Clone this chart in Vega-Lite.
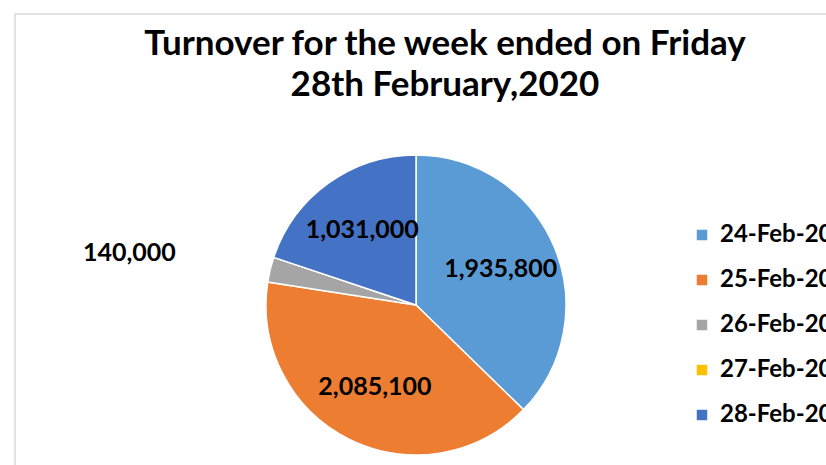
{
  "$schema": "https://vega.github.io/schema/vega-lite/v6.json",
  "autosize": {"type": "none"},
  "width": 850,
  "height": 582,
  "padding": {"left": 15, "top": 14, "right": 0, "bottom": 0},
  "background": "white",
  "view": {"stroke": "#d9d9d9", "strokeWidth": 1.5},
  "title": {
    "text": ["Turnover for the week ended on Friday", "28th February,2020"],
    "font": "Lato",
    "fontSize": 35,
    "fontWeight": "bold",
    "color": "black",
    "anchor": "middle",
    "baseline": "top",
    "lineHeight": 41,
    "offset": 0,
    "dx": 5,
    "dy": 89
  },
  "data": {
    "values": [
      {"day": "24-Feb-20", "value": 1935800},
      {"day": "25-Feb-20", "value": 2085100},
      {"day": "26-Feb-20", "value": 140000},
      {"day": "27-Feb-20", "value": 0},
      {"day": "28-Feb-20", "value": 1031000}
    ]
  },
  "encoding": {
    "theta": {"field": "value", "type": "quantitative", "stack": true},
    "order": {"field": "day", "sort": "ascending"}
  },
  "layer": [
    {
      "mark": {"type": "arc", "outerRadius": 150, "xOffset": -24, "stroke": "white", "strokeWidth": 1.5},
      "encoding": {
        "color": {
          "field": "day",
          "type": "nominal",
          "scale": {
            "domain": ["24-Feb-20", "25-Feb-20", "26-Feb-20", "27-Feb-20", "28-Feb-20"],
            "range": ["#5B9BD5", "#ED7D31", "#A5A5A5", "#FFC000", "#4472C4"]
          },
          "legend": {
            "title": null,
            "orient": "none",
            "legendX": 675,
            "legendY": 209,
            "symbolType": "square",
            "symbolSize": 110,
            "symbolStrokeWidth": 0,
            "labelFont": "Lato",
            "labelFontSize": 24,
            "labelFontWeight": "bold",
            "labelColor": "black",
            "labelOffset": 6,
            "rowPadding": 21,
            "labelLimit": 300
          }
        }
      }
    },
    {
      "mark": {"type": "text", "radius": 92, "xOffset": -24, "font": "Lato", "fontSize": 25, "fontWeight": "bold", "color": "black"},
      "encoding": {
        "text": {
          "condition": {"test": "datum.value > 500000", "field": "value", "type": "quantitative", "format": ",d"},
          "value": ""
        }
      }
    },
    {
      "mark": {"type": "text", "radius": 295, "xOffset": -24, "dy": 18, "font": "Lato", "fontSize": 25, "fontWeight": "bold", "color": "black"},
      "encoding": {
        "text": {
          "condition": {"test": "datum.value > 0 && datum.value < 500000", "field": "value", "type": "quantitative", "format": ",d"},
          "value": ""
        }
      }
    }
  ]
}
